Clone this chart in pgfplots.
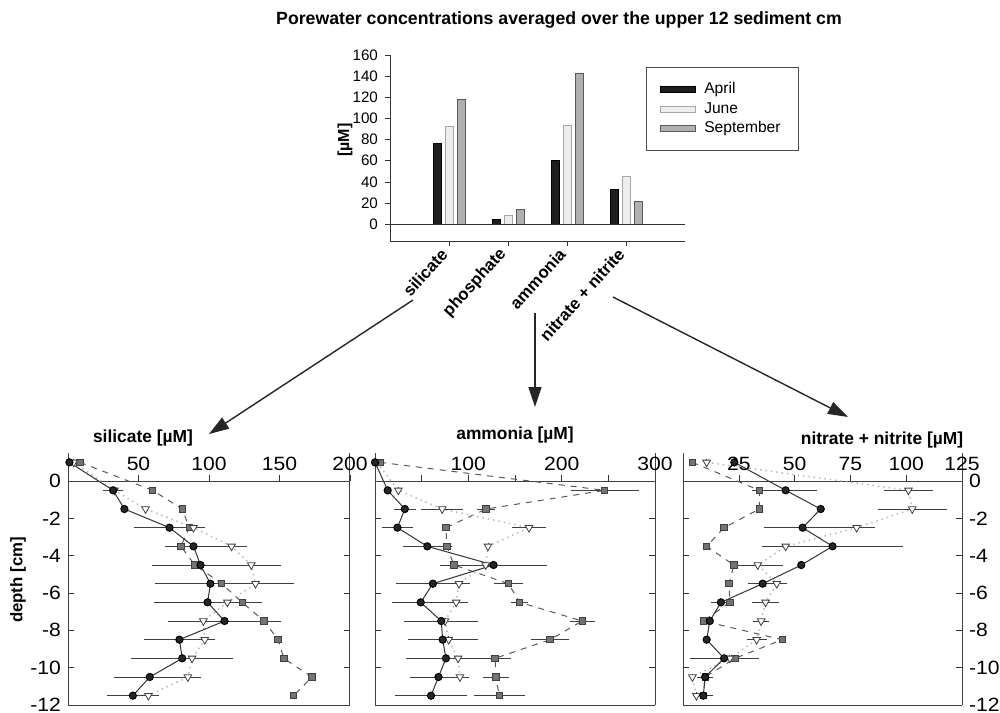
\documentclass[border=0pt]{standalone}
\usepackage{pgfplots}
\pgfplotsset{compat=1.18}
\usepackage{fontspec}
\setmainfont{Liberation Sans}
\newfontfamily\tickfont[FakeStretch=1.1]{Liberation Sans}
\usetikzlibrary{arrows.meta}

\pgfplotsset{
  panel/.style={
    scale only axis, height=126pt,
    ymin=-12, ymax=1.5, ytick={-12,-10,...,0},
    axis x line*=middle, axis y line*=box,
    hide obscured x ticks=false,
    clip=false, enlargelimits=false,
    xticklabel style={anchor=south, yshift=1.5pt},
    tick label style={font=\tickfont\fontsize{9.6}{11}\selectfont},
    /pgf/number format/assume math mode=true,
    tick style={black!80},
    major tick length=3pt,
    axis line style={black!75, line width=0.5pt},
  },
  apr/.style={black!80, line width=0.5pt, mark=*, mark size=1.8pt,
    mark options={solid, fill=black!85, draw=black}},
  jun/.style={gray!60, dotted, line width=0.7pt, mark=triangle*, mark size=2.2pt,
    mark options={solid, rotate=180, fill=white, draw=black!75, line width=0.4pt}},
  sep/.style={black!65, dashed, line width=0.5pt, mark=square*, mark size=1.6pt,
    mark options={solid, fill=black!55, draw=black!75, line width=0.4pt}},
  eb/.style={error bars/.cd, x dir=both, x explicit,
    error bar style={black!75, line width=0.4pt, solid},
    error mark options={black!75, mark size=1.6pt, solid}},
}

\begin{document}
\begin{tikzpicture}
\begin{scope}[x=0.5pt,y=-0.5pt]
\path[use as bounding box] (0,0) rectangle (1000,712);
\coordinate (topsw) at (390,241);
\coordinate (silsw) at (68,705);
\coordinate (ammsw) at (375,705);
\coordinate (nitsw) at (683,705);
\end{scope}

% bar chart: averages over upper 12 cm
\begin{axis}[at={(topsw)}, anchor=south west,
  scale only axis, width=147.5pt, height=93pt,
  ybar=2pt, bar width=4pt,
  xmin=-1, xmax=4, ymin=-16, ymax=160, enlargelimits=false,
  axis lines*=left,
  axis line style={black!80, line width=0.5pt},
  tick align=outside, major tick length=2.5pt, tick style={black!80},
  xtick={0,1,2,3},
  xticklabels={silicate, phosphate, ammonia, nitrate + nitrite},
  xticklabel style={rotate=48, anchor=east, font=\bfseries\fontsize{8.4}{9}\selectfont},
  ytick={0,20,...,160},
  yticklabel style={font=\fontsize{7.6}{9}\selectfont},
  /pgf/number format/assume math mode=true,
  legend image code/.code={\draw[#1,/tikz/.cd,yshift=-1.6pt] (0pt,0pt) rectangle (17.5pt,3.2pt); \path (19.5pt,0pt);},
  legend cell align=left,
  legend style={at={(0.868,0.935)}, anchor=north west, draw=black!70,
    font=\fontsize{7.8}{8.5}\selectfont, inner xsep=7pt, inner ysep=5.5pt,
    row sep=-1.25pt},
]
\addplot[fill=black!88, draw=black] coordinates {(0,76) (1,4.5) (2,60) (3,32.5)};
\addplot[fill=gray!14, draw=gray!70] coordinates {(0,92) (1,8) (2,93) (3,45.5)};
\addplot[fill=gray!62, draw=gray!70!black] coordinates {(0,118) (1,13.5) (2,142.5) (3,21.5)};
\draw[black!80, line width=0.5pt] (axis cs:-1,0) -- (axis cs:4,0);
\legend{April, June, September}
\end{axis}

% silicate profile
\begin{axis}[panel, at={(silsw)}, anchor=south west, width=141pt,
  xmin=0, xmax=200, xtick={50,100,150,200}]
\addplot[sep, eb] coordinates {
  (8.5,1) +- (0,0) (60,-0.5) +- (0,0) (81,-1.5) +- (0,0) (86,-2.5) +- (4,0)
  (80,-3.5) +- (2,0) (90,-4.5) +- (3,0) (109,-5.5) +- (0,0) (123.5,-6.5) +- (3,0)
  (139,-7.5) +- (6,0) (149,-8.5) +- (0,0) (153,-9.5) +- (0,0) (173,-10.5) +- (0,0)
  (160,-11.5) +- (0,0)};
\addplot[jun, eb] coordinates {
  (4,1) +- (0,0) (33,-0.5) +- (2,0) (55,-1.5) +- (0,0) (89,-2.5) +- (3,0)
  (116,-3.5) +- (9,0) (130,-4.5) +- (19,0) (133,-5.5) +- (25,0) (113,-6.5) +- (7,0)
  (96,-7.5) +- (7,0) (97,-8.5) +- (5,0) (88,-9.5) +- (4,0) (85,-10.5) +- (7,0)
  (57,-11.5) +- (4,0)};
\addplot[apr, eb] coordinates {
  (1,1) +- (0,0) (32,-0.5) +- (5,0) (40,-1.5) +- (0,0) (72,-2.5) +- (23,0)
  (89,-3.5) +- (18,0) (94,-4.5) +- (32,0) (101,-5.5) +- (37,0) (99,-6.5) +- (36,0)
  (111,-7.5) +- (38,0) (79,-8.5) +- (23,0) (81,-9.5) +- (34,0) (58,-10.5) +- (23,0)
  (46,-11.5) +- (16,0)};
\draw[black!75, line width=0.5pt] (rel axis cs:0,0) -- (rel axis cs:1,0);
\end{axis}

% ammonia profile
\begin{axis}[panel, at={(ammsw)}, anchor=south west, width=140pt,
  xmin=0, xmax=300, xtick={100,200,300}, minor xtick={50,150,250},
  yticklabels={}]
\addplot[sep, eb] coordinates {
  (5.4,1) +- (0,0) (246,-0.5) +- (33,0) (119,-1.5) +- (6,0) (76,-2.5) +- (0,0)
  (77,-3.5) +- (0,0) (84.6,-4.5) +- (6,0) (143,-5.5) +- (12,0) (155,-6.5) +- (6,0)
  (222,-7.5) +- (10,0) (187.5,-8.5) +- (17,0) (128.6,-9.5) +- (14,0)
  (129.6,-10.5) +- (11,0) (133,-11.5) +- (24,0)};
\addplot[jun, eb] coordinates {
  (2,1) +- (0,0) (25,-0.5) +- (0,0) (72,-1.5) +- (19,0) (165,-2.5) +- (14.5,0)
  (121,-3.5) +- (0,0) (118.6,-4.5) +- (3,0) (90,-5.5) +- (7,0) (87,-6.5) +- (9,0)
  (75,-7.5) +- (0,0) (79,-8.5) +- (0,0) (89,-9.5) +- (6,0) (91,-10.5) +- (6,0)};
\addplot[apr, eb] coordinates {
  (0,1) +- (0,0) (13.6,-0.5) +- (0,0) (32,-1.5) +- (8,0) (24,-2.5) +- (13,0)
  (56,-3.5) +- (23,0) (127,-4.5) +- (54,0) (62,-5.5) +- (36,0) (49,-6.5) +- (27,0)
  (71,-7.5) +- (36,0) (72.5,-8.5) +- (34,0) (76,-9.5) +- (39,0) (68,-10.5) +- (27,0)
  (60,-11.5) +- (35,0)};
\draw[black!75, line width=0.5pt] (rel axis cs:0,0) -- (rel axis cs:1,0);
\end{axis}

% nitrate + nitrite profile
\begin{axis}[panel, at={(nitsw)}, anchor=south west, width=139.5pt,
  xmin=0, xmax=125, xtick={25,50,...,125},
  yticklabel pos=right]
\addplot[sep, eb] coordinates {
  (4.2,1) +- (0,0) (34.2,-0.5) +- (2,0) (34.2,-1.5) +- (0,0) (18.4,-2.5) +- (0,0)
  (10.6,-3.5) +- (0,0) (22.8,-4.5) +- (0,0) (20.6,-5.5) +- (0,0) (21,-6.5) +- (0,0)
  (9.1,-7.5) +- (0,0) (44.5,-8.5) +- (0,0) (23.3,-9.5) +- (0,0) (9.9,-10.5) +- (2,0)
  (9.1,-11.5) +- (3,0)};
\addplot[jun, eb] coordinates {
  (10.6,1) +- (0,0) (101,-0.5) +- (9.5,0) (102.7,-1.5) +- (14,0) (77.8,-2.5) +- (6.7,0)
  (46,-3.5) +- (9,0) (33.5,-4.5) +- (10,0) (42,-5.5) +- (3,0) (37,-6.5) +- (4.5,0)
  (35,-7.5) +- (2,0) (33,-8.5) +- (3,0) (21,-9.5) +- (0,0) (4.2,-10.5) +- (0,0)
  (6,-11.5) +- (0,0)};
\addplot[apr, eb] coordinates {
  (23,1) +- (0,0) (46,-0.5) +- (12.5,0) (61.7,-1.5) +- (0,0) (53.6,-2.5) +- (16,0)
  (67,-3.5) +- (30,0) (53,-4.5) +- (0,0) (35.7,-5.5) +- (5,0) (17,-6.5) +- (3,0)
  (12,-7.5) +- (0,0) (10.6,-8.5) +- (0,0) (18.4,-9.5) +- (14,0) (9.9,-10.5) +- (0,0)
  (9.1,-11.5) +- (0,0)};
\draw[black!75, line width=0.5pt] (rel axis cs:0,0) -- (rel axis cs:1,0);
\end{axis}

% titles, labels and arrows
\begin{scope}[x=0.5pt,y=-0.5pt]
\node[font=\bfseries\fontsize{8.85}{10}\selectfont] at (559,20)
  {Porewater concentrations averaged over the upper 12 sediment cm};
\node[rotate=90, font=\bfseries\fontsize{8}{9.6}\selectfont] at (345,140) {[µM]};
\node[font=\bfseries\fontsize{8.7}{10}\selectfont] at (143,438) {silicate [µM]};
\node[font=\bfseries\fontsize{8.7}{10}\selectfont] at (515,435) {ammonia [µM]};
\node[font=\bfseries\fontsize{8.7}{10}\selectfont] at (882,440) {nitrate + nitrite [µM]};
\node[rotate=90, font=\bfseries\fontsize{8.4}{10}\selectfont] at (18,580) {depth [cm]};
\draw[black!85, line width=0.7pt, -{Triangle[length=10pt,width=6.5pt]}] (413,300) -- (209,434);
\draw[black!85, line width=0.7pt, -{Triangle[length=10pt,width=6.5pt]}] (535,313) -- (535,407);
\draw[black!85, line width=0.7pt, -{Triangle[length=10pt,width=6.5pt]}] (613,297) -- (848,417);
\pgfresetboundingbox
\path[use as bounding box] (0,0) rectangle (1000,712);
\end{scope}
\end{tikzpicture}
\end{document}
